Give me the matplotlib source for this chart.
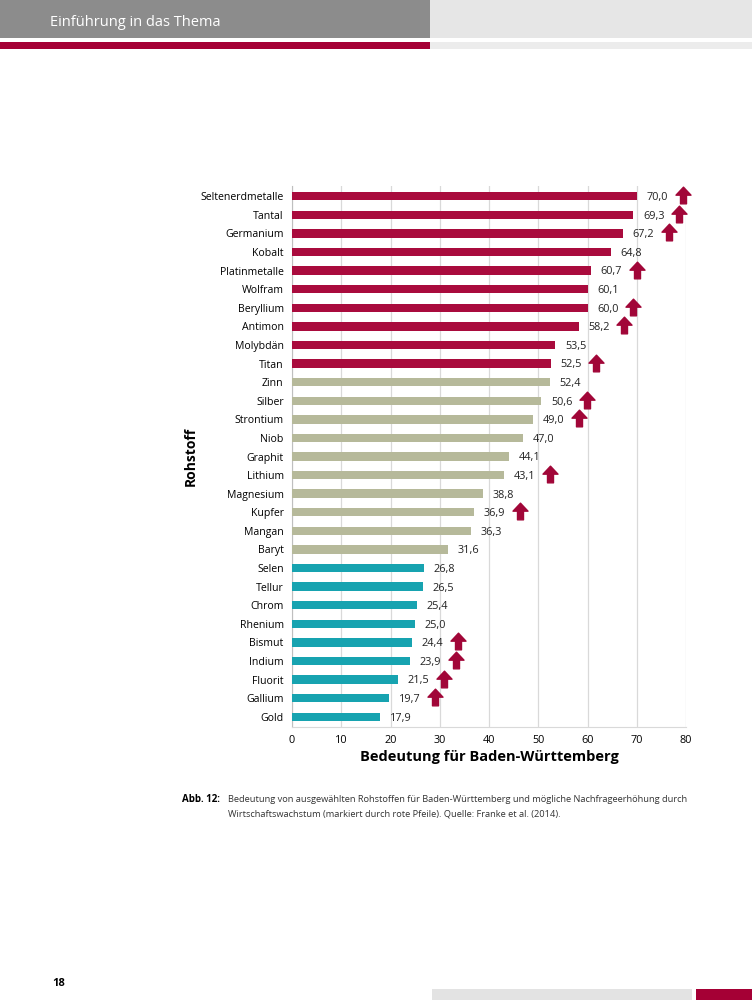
import matplotlib.pyplot as plt
import numpy as np
from matplotlib.path import Path
from matplotlib.patches import Rectangle

plt.rcParams['font.family'] = ['Open Sans', 'DejaVu Sans']

# Daten
rohstoffe = ['Seltenerdmetalle', 'Tantal', 'Germanium', 'Kobalt', 'Platinmetalle',
             'Wolfram', 'Beryllium', 'Antimon', 'Molybdän', 'Titan',
             'Zinn', 'Silber', 'Strontium', 'Niob', 'Graphit', 'Lithium',
             'Magnesium', 'Kupfer', 'Mangan', 'Baryt',
             'Selen', 'Tellur', 'Chrom', 'Rhenium', 'Bismut', 'Indium',
             'Fluorit', 'Gallium', 'Gold']
bedeutung = [70.0, 69.3, 67.2, 64.8, 60.7, 60.1, 60.0, 58.2, 53.5, 52.5,
             52.4, 50.6, 49.0, 47.0, 44.1, 43.1, 38.8, 36.9, 36.3, 31.6,
             26.8, 26.5, 25.4, 25.0, 24.4, 23.9, 21.5, 19.7, 17.9]
gruppe = [0] * 10 + [1] * 10 + [2] * 9
pfeil = ['Seltenerdmetalle', 'Tantal', 'Germanium', 'Platinmetalle', 'Beryllium',
         'Antimon', 'Titan', 'Silber', 'Strontium', 'Lithium', 'Kupfer',
         'Bismut', 'Indium', 'Fluorit', 'Gallium']
x_ticks = [0, 10, 20, 30, 40, 50, 60, 70, 80]

farben = ['#a90b3d', '#b6b99a', '#17a3b0']
rot = '#a10638'

fig = plt.figure(figsize=(7.52, 10), dpi=100)

# Kopfzeile
fig.add_artist(Rectangle((0, 1 - 38 / 1000), 430 / 752, 38 / 1000,
                         transform=fig.transFigure, color='#8c8c8c', lw=0))
fig.add_artist(Rectangle((430 / 752, 1 - 38 / 1000), 322 / 752, 38 / 1000,
                         transform=fig.transFigure, color='#e6e6e6', lw=0))
fig.add_artist(Rectangle((0, 1 - 49 / 1000), 430 / 752, 7 / 1000,
                         transform=fig.transFigure, color='#a50035', lw=0))
fig.add_artist(Rectangle((430 / 752, 1 - 49 / 1000), 322 / 752, 7 / 1000,
                         transform=fig.transFigure, color='#ececec', lw=0))
fig.text(50 / 752, 1 - 23 / 1000, 'Einführung in das Thema', color='white',
         fontsize=10.5, va='center', ha='left')

# Fußzeile
fig.text(52 / 752, 1 - 983 / 1000, '18', fontsize=8, fontweight='bold',
         va='center', ha='left')
fig.add_artist(Rectangle((432 / 752, 0), 260 / 752, 11 / 1000,
                         transform=fig.transFigure, color='#e3e3e3', lw=0))
fig.add_artist(Rectangle((696 / 752, 0), 56 / 752, 11 / 1000,
                         transform=fig.transFigure, color='#a50035', lw=0))

# Diagramm
ax = fig.add_axes([292 / 752, 1 - 727 / 1000, 394 / 752, 541 / 1000])
y = np.arange(len(rohstoffe))
ax.barh(y, bedeutung, height=0.45, color=[farben[g] for g in gruppe], zorder=3)

for yi, v in zip(y, bedeutung):
    ax.annotate(f'{v:.1f}'.replace('.', ','), (v, yi), xytext=(7, -1),
                textcoords='offset points', ha='left', va='center',
                fontsize=7.8, color='#222222')

# Pfeile für Nachfrageerhöhung
pfeil_path = Path([(-0.18, -0.5), (0.18, -0.5), (0.18, 0.02), (0.45, 0.02),
                   (0.0, 0.5), (-0.45, 0.02), (-0.18, 0.02), (-0.18, -0.5)],
                  [Path.MOVETO] + [Path.LINETO] * 6 + [Path.CLOSEPOLY])
px = [v + 9.3 for r, v in zip(rohstoffe, bedeutung) if r in pfeil]
py = [yi for yi, r in zip(y, rohstoffe) if r in pfeil]
ax.plot(px, np.array(py) - 0.05, linestyle='none', marker=pfeil_path,
        markersize=12, color=rot, zorder=4, clip_on=False)

ax.set_yticks(y)
ax.set_yticklabels(rohstoffe, fontsize=7.6)
ax.set_ylim(len(rohstoffe) - 0.45, -0.55)
ax.set_xlim(0, 80)
ax.set_xticks(x_ticks)
ax.set_xticklabels([str(t) for t in x_ticks], fontsize=7.8)
ax.tick_params(axis='both', length=0, pad=6)
ax.grid(axis='x', color='#d9d9d9', linewidth=0.9, zorder=0)
for s in ['top', 'right']:
    ax.spines[s].set_visible(False)
ax.spines['left'].set_color('#bfbfbf')
ax.spines['bottom'].set_color('#d9d9d9')
ax.set_xlabel('Bedeutung für Baden-Württemberg', fontsize=10.5,
              fontweight='bold', labelpad=3)
ax.set_ylabel('Rohstoff', fontsize=10, fontweight='bold')
ax.yaxis.set_label_coords(-0.24, 0.5)

# Bildunterschrift
fig.text(182 / 752, 1 - 800 / 1000, 'Abb. 12:', fontsize=7,
         fontweight='bold', va='center', ha='left')
fig.text(228 / 752, 1 - 800 / 1000,
         'Bedeutung von ausgewählten Rohstoffen für Baden-Württemberg und mögliche '
         'Nachfrageerhöhung durch', fontsize=6.7, va='center', ha='left',
         color='#333333')
fig.text(228 / 752, 1 - 814 / 1000,
         'Wirtschaftswachstum (markiert durch rote Pfeile). Quelle: Franke et al. (2014).',
         fontsize=6.7, va='center', ha='left', color='#333333')

fig.savefig('out.png', dpi=100)
